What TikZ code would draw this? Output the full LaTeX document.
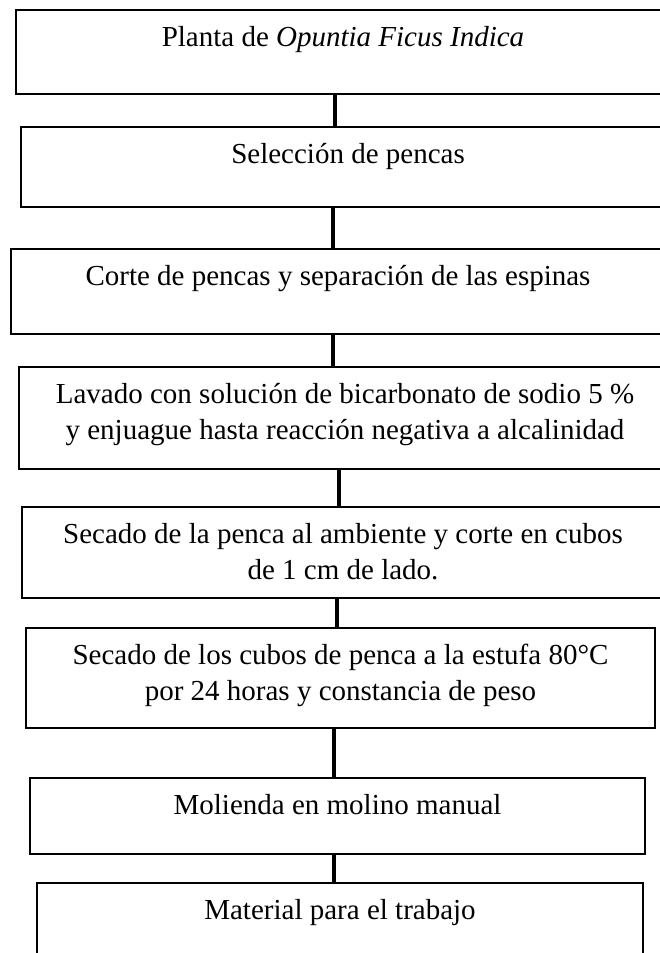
\documentclass[tikz,border=0pt]{standalone}
\usepackage{fontspec}
\setmainfont{Liberation Serif}

\begin{document}
\begin{tikzpicture}[x=0.5pt, y=-0.5pt,
	stepbox/.style={draw, line width=0.75pt, anchor=north, align=center, inner sep=0pt, text height=18.5pt, font=\fontsize{14.5}{18}\selectfont},
	twoline/.style={text height=36.5pt},
	link/.style={line width=2.2pt}]
	\useasboundingbox (0,0) rectangle (659,953);
	\node[stepbox, minimum width=327pt, text depth=23.5pt] (1) at (343,9) {Planta de \textit{Opuntia Ficus Indica}};
	\node[stepbox, minimum width=327pt, text depth=21.5pt] (2) at (348,126) {Selección de pencas};
	\node[stepbox, minimum width=327pt, text depth=24pt] (3) at (338,248) {Corte de pencas y separación de las espinas};
	\node[stepbox, twoline, minimum width=326pt, text depth=14.5pt] (4) at (345,366) {Lavado con solución de bicarbonato de sodio 5 \%\\y enjuague hasta reacción negativa a alcalinidad};
	\node[stepbox, twoline, minimum width=321pt, text depth=9pt] (5) at (343,506) {Secado de la penca al ambiente y corte en cubos\\de 1 cm de lado.};
	\node[stepbox, twoline, minimum width=314.5pt, text depth=13.5pt] (6) at (340.5,627) {Secado de los cubos de penca a la estufa 80°C\\por 24 horas y constancia de peso};
	\node[stepbox, minimum width=307.5pt, text depth=19.5pt] (7) at (337.5,777) {Molienda en molino manual};
	\node[stepbox, minimum width=303pt, text depth=31.5pt] (8) at (340,882) {Material para el trabajo};
	\draw[link] (1.south -| 335,0) to (2.north -| 335,0);
	\draw[link] (2.south -| 333,0) to (3.north -| 333,0);
	\draw[link] (3.south -| 333,0) to (4.north -| 333,0);
	\draw[link] (4.south -| 339,0) to (5.north -| 339,0);
	\draw[link] (5.south -| 337,0) to (6.north -| 337,0);
	\draw[link] (6.south -| 334,0) to (7.north -| 334,0);
	\draw[link] (7.south -| 334,0) to (8.north -| 334,0);
\end{tikzpicture}
\end{document}
